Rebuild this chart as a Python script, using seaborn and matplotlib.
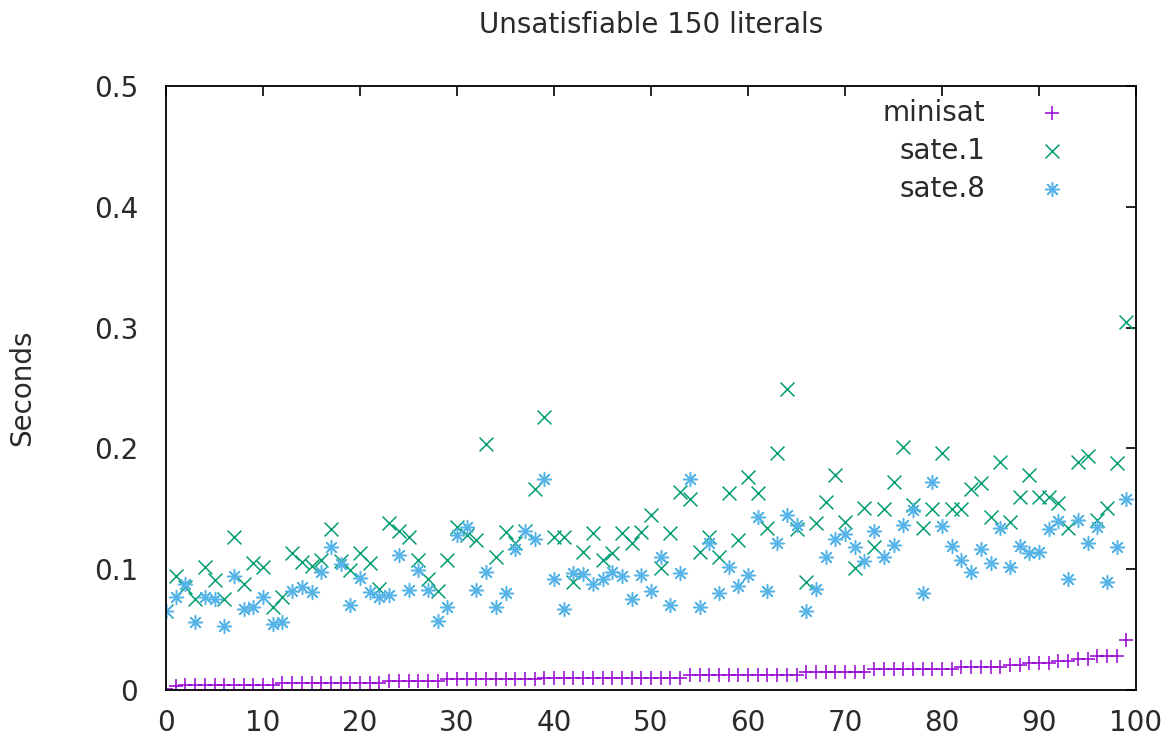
import numpy as np
import pandas as pd
import matplotlib
matplotlib.use("Agg")
import matplotlib.pyplot as plt
import seaborn as sns

# ---- data ----
title = "Unsatisfiable 150 literals"
y_label = "Seconds"
series_names = ["minisat", "sate.1", "sate.8"]
x_index = list(range(100))

minisat = [
    0.001, 0.003, 0.004, 0.004, 0.004, 0.004, 0.004, 0.004, 0.004, 0.004,
    0.004, 0.004, 0.006, 0.006, 0.006, 0.006, 0.006, 0.006, 0.006, 0.006,
    0.006, 0.006, 0.006, 0.0075, 0.0075, 0.0075, 0.0075, 0.0075, 0.0075, 0.009,
    0.009, 0.009, 0.009, 0.009, 0.009, 0.009, 0.009, 0.009, 0.009, 0.010,
    0.010, 0.010, 0.010, 0.010, 0.010, 0.010, 0.010, 0.010, 0.010, 0.010,
    0.010, 0.010, 0.010, 0.010, 0.0125, 0.0125, 0.0125, 0.0125, 0.0125, 0.0125,
    0.0125, 0.0125, 0.0125, 0.0125, 0.0125, 0.0125, 0.015, 0.015, 0.015, 0.015,
    0.015, 0.015, 0.015, 0.017, 0.017, 0.017, 0.017, 0.017, 0.017, 0.017,
    0.017, 0.017, 0.019, 0.019, 0.019, 0.019, 0.019, 0.021, 0.021, 0.022,
    0.022, 0.022, 0.024, 0.024, 0.026, 0.026, 0.028, 0.028, 0.028, 0.041,
]

sate1 = [
    0.065, 0.094, 0.085, 0.075, 0.102, 0.091, 0.075, 0.127, 0.088, 0.105,
    0.102, 0.069, 0.077, 0.113, 0.106, 0.103, 0.108, 0.133, 0.107, 0.099,
    0.113, 0.105, 0.084, 0.138, 0.132, 0.127, 0.108, 0.092, 0.082, 0.108,
    0.135, 0.128, 0.124, 0.204, 0.110, 0.131, 0.122, 0.132, 0.166, 0.226,
    0.127, 0.127, 0.089, 0.114, 0.130, 0.108, 0.113, 0.130, 0.122, 0.131,
    0.145, 0.101, 0.130, 0.164, 0.158, 0.114, 0.127, 0.110, 0.163, 0.124,
    0.176, 0.163, 0.134, 0.196, 0.249, 0.133, 0.089, 0.138, 0.156, 0.178,
    0.139, 0.101, 0.151, 0.118, 0.150, 0.172, 0.201, 0.153, 0.134, 0.150,
    0.196, 0.150, 0.150, 0.166, 0.171, 0.143, 0.189, 0.139, 0.160, 0.178,
    0.160, 0.160, 0.155, 0.134, 0.189, 0.194, 0.141, 0.151, 0.188, 0.305,
]

sate8 = [
    0.065, 0.077, 0.088, 0.056, 0.077, 0.075, 0.053, 0.094, 0.067, 0.069,
    0.077, 0.055, 0.056, 0.082, 0.085, 0.081, 0.098, 0.118, 0.104, 0.070,
    0.093, 0.081, 0.077, 0.079, 0.112, 0.083, 0.099, 0.083, 0.057, 0.069,
    0.128, 0.135, 0.083, 0.098, 0.069, 0.080, 0.117, 0.132, 0.125, 0.175,
    0.092, 0.067, 0.097, 0.096, 0.088, 0.092, 0.098, 0.094, 0.075, 0.095,
    0.082, 0.110, 0.070, 0.097, 0.175, 0.069, 0.122, 0.080, 0.102, 0.086,
    0.095, 0.143, 0.082, 0.122, 0.145, 0.137, 0.065, 0.084, 0.110, 0.125,
    0.129, 0.118, 0.107, 0.132, 0.110, 0.120, 0.137, 0.149, 0.080, 0.172,
    0.136, 0.119, 0.108, 0.098, 0.117, 0.105, 0.134, 0.102, 0.119, 0.113,
    0.114, 0.133, 0.140, 0.092, 0.141, 0.122, 0.135, 0.089, 0.118, 0.158,
]

x_ticks = [0, 10, 20, 30, 40, 50, 60, 70, 80, 90, 100]
x_tick_labels = ["0", "10", "20", "30", "40", "50", "60", "70", "80", "90", "100"]
y_ticks = [0.0, 0.1, 0.2, 0.3, 0.4, 0.5]
y_tick_labels = ["0", "0.1", "0.2", "0.3", "0.4", "0.5"]

# ---- styling ----
colors = {"minisat": "#9400D3", "sate.1": "#009E73", "sate.8": "#56B4E9"}
markers = {"minisat": "+", "sate.1": "x", "sate.8": (8, 2, 0)}
text_color = "#2a2a2a"

sns.set_theme(style="white")
plt.rcParams["font.family"] = ["DejaVu Sans"]
plt.rcParams["text.color"] = text_color

W, H = 1173, 745
fig = plt.figure(figsize=(W / 100, H / 100), dpi=100)
ax = fig.add_axes([166 / W, 1 - 690 / H, (1136 - 166) / W, (690 - 86) / H])

df = pd.DataFrame({"i": x_index, "minisat": minisat, "sate.1": sate1, "sate.8": sate8})
for name in series_names:
    sns.scatterplot(data=df, x="i", y=name, ax=ax, marker=markers[name],
                    color=colors[name], s=100, linewidth=1.1, label=name)

ax.set_xlim(0, 100)
ax.set_ylim(0, 0.5)
ax.set_xticks(x_ticks)
ax.set_xticklabels(x_tick_labels)
ax.set_yticks(y_ticks)
ax.set_yticklabels(y_tick_labels)
ax.set_xlabel("")
ax.set_ylabel(y_label, fontsize=20, color=text_color)
ax.yaxis.set_label_coords(-0.134, 0.5)

ax.tick_params(direction="in", top=True, right=True, length=7, width=1.2,
               labelsize=20, labelcolor=text_color, color="black")
ax.tick_params(axis="y", pad=20)
ax.tick_params(axis="x", pad=14)
for sp in ax.spines.values():
    sp.set_visible(True)
    sp.set_color("black")
    sp.set_linewidth(1.3)

ax.set_title(title, fontsize=20, pad=38, color=text_color)

leg = ax.legend(loc="upper right", bbox_to_anchor=(0.928, 0.979), frameon=False,
                markerfirst=False, fontsize=20, handlelength=1.0,
                handletextpad=1.9, labelspacing=0.36, borderpad=0,
                borderaxespad=0, scatterpoints=1)

fig.savefig("out.png", dpi=100)
